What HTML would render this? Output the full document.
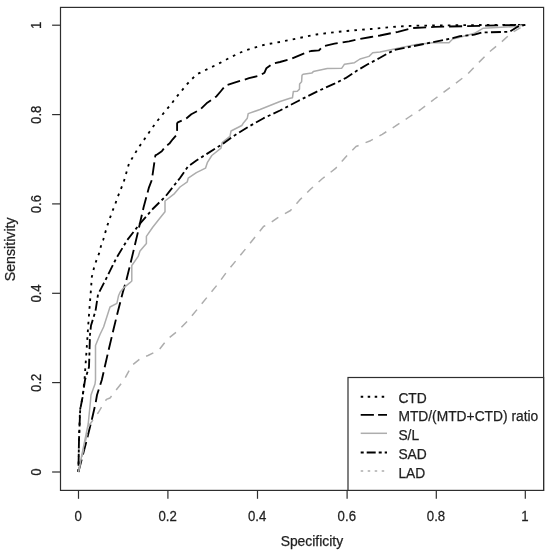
<!DOCTYPE html>
<html><head><meta charset="utf-8"><title>ROC curves</title>
<style>html,body{margin:0;padding:0;background:#fff}svg{display:block}text{stroke:#1f1f1f;stroke-width:0.25px;font-family:"Liberation Sans",sans-serif;font-size:14px;fill:#1f1f1f}</style></head><body>
<svg width="550" height="557" viewBox="0 0 550 557">
<rect width="550" height="557" fill="#fff"/>
<g fill="none" stroke-width="1.85" stroke-linejoin="round">
<polyline stroke="#000" stroke-dasharray="2.6 5.2" points="78.4,472 79,440 80,410 82.4,398 84.5,380 86.4,352.7 88.2,325.5 89.6,307 91,289 91.8,277 94.2,267 96.6,259.8 99.1,253.4 100.9,246.3 103.4,239.3 105.3,232.4 107.3,225.6 109.8,218.5 112.4,211.2 115.1,204.6 117.2,198.2 123.8,181.8 129,163.6 137.9,148.6 147.1,135.3 156.1,122.4 166.2,110 171.2,104.2 175.8,97.8 180.9,91.8 186,85.3 191.5,79.5 196.6,74.4 203.7,71 210.7,67.5 217.7,64.2 224.5,60.5 231.5,56.9 238.7,53.3 245.6,50.3 252.7,48.2 265.5,44.5 280,42 298.2,38.2 316.4,34.5 334.5,32.2 352.7,30.4 371,29 380,28.2 398,26.5 416.4,25.7 480,25 525.3,24.8"/>
<polyline stroke="#000" stroke-dasharray="13 5" points="78.4,472 86,443 91.8,419.7 95.5,403.7 97,395 101.8,380 108,352.7 113.6,329 118,311 122.7,292.7 126.4,280 131.8,258 138.2,231 143.6,207.3 149,187.3 151.8,180 155,158 155.4,155.4 157.5,154.3 161.8,151.3 165.6,146.3 169.4,143.6 172.7,139.3 176.5,134.9 177.1,130 177.1,123.4 177.8,122.3 186.3,118.5 191.3,114.2 200,109.7 207.3,102.7 216.4,96.4 221,91 225.5,85.5 234.5,82.7 249,78.2 260,75.5 264.5,72.7 266.4,68.2 272.7,63.6 280,62 291,59 303.6,53.6 311,51 319,50.4 322.7,46.4 334.5,43.6 349,41.3 360,39 371,37 380,35.5 398,31.8 412.7,28 434.5,26.9 480,25.8 525.3,24.8"/>
<polyline stroke="#adadad" stroke-width="1.5" points="78.4,472 88.2,424 90.4,402 91,395 95,384 95.5,380 95.5,345.5 100,334.5 103.6,327 110,307 116.9,303.4 118.5,295.8 120.2,292 124.5,287.1 130,282.7 131.8,281 131.8,265.5 138.2,256.4 140,251 146.4,243.6 146.4,236.4 152.7,227.3 160,218 165,211.8 165,201 174.5,193.6 180,187 187.3,181.8 188.2,178.2 196.4,172.7 205.5,168.2 207.3,162.7 211.8,155.5 221,148.2 222.2,142.7 230,136.4 231,131 241.8,125.5 243.6,122.7 247.3,118.2 248.2,113.6 260,109.5 280,101.5 290,98.2 292.5,97.7 293.3,91.6 297.3,91.2 299.5,89.1 299.6,84 301.6,81.8 302,75.3 303.1,74.2 311.8,73.1 313.3,71.6 327.3,68.5 341.8,68.2 344.5,64.2 354.5,62.7 360,59 369,56.4 372.7,52.7 380,52 398,48.2 416.4,44.5 432.7,42.7 449,42.7 452.7,39 460,37.2 474.5,33.3 483.3,28.2 515,26.5 525.3,24.8"/>
<polyline stroke="#000" stroke-dasharray="3 3.3 10 3.3" points="78.4,472 79,440 80.2,409.5 82.4,398 85,380 89,367 90,334.5 91,325.5 95.5,311 98,294.5 103.6,283.6 105.5,280 116.4,258 127.3,240 140,223.6 152.7,209 165.5,196.4 180,178 188,166.5 196.4,160.5 207.3,153.6 221.8,144.5 234.5,135.5 249,126.4 263.6,118.2 280,110.5 298.2,101 316.4,91.8 334.5,83.6 345.5,78.2 356.4,71 367.3,64.5 380,57.8 387.3,53.6 394.5,50 416.4,45.5 434.5,41.8 452.7,38.2 460,36.2 474.5,34.7 481.8,32.5 509.5,31.8 518,26.5 525.3,24.8"/>
<polyline stroke="#adadad" stroke-width="1.5" stroke-dasharray="8 7.5" points="78.4,472 89,425.5 98.4,412.5 102.7,405 106.4,399.4 110,398 124,380 131.8,365.5 141,358 148,355.5 159,350 167.5,339 177.3,331.3 188.2,320.4 198,308.4 207.8,296.4 217.6,284.4 226.4,272.4 236.2,260.4 246,248.4 254.7,237.5 263.5,226.5 270,223 277.5,217.8 290.5,210.5 299.3,200.4 311,188.7 322.5,178.5 335.6,168.4 347.3,155.3 356,146.5 370.5,140.7 382.2,134.3 395.3,126.2 408.4,117.5 420,110 434.5,99 452.7,85.5 467.3,74.5 477.5,63.8 489,52.2 500.7,42.7 511,33.3 525.3,24.8"/>
</g>
<g fill="none" stroke="#2e2e2e" stroke-width="1.2">
<rect x="60.5" y="7.4" width="483.1" height="483.0"/>
<line x1="78.5" y1="490.4" x2="78.5" y2="498.79999999999995"/>
<line x1="60.5" y1="472.0" x2="52.1" y2="472.0"/>
<line x1="167.9" y1="490.4" x2="167.9" y2="498.79999999999995"/>
<line x1="60.5" y1="382.6" x2="52.1" y2="382.6"/>
<line x1="257.5" y1="490.4" x2="257.5" y2="498.79999999999995"/>
<line x1="60.5" y1="293.3" x2="52.1" y2="293.3"/>
<line x1="347.1" y1="490.4" x2="347.1" y2="498.79999999999995"/>
<line x1="60.5" y1="203.9" x2="52.1" y2="203.9"/>
<line x1="436.3" y1="490.4" x2="436.3" y2="498.79999999999995"/>
<line x1="60.5" y1="114.6" x2="52.1" y2="114.6"/>
<line x1="525.3" y1="490.4" x2="525.3" y2="498.79999999999995"/>
<line x1="60.5" y1="25.2" x2="52.1" y2="25.2"/>
<rect x="348" y="377.5" width="195.60000000000002" height="112.89999999999998" fill="#fff"/>
</g>
<text transform="translate(78.2,521) scale(0.943,1.085)" text-anchor="middle">0</text>
<text transform="translate(41,472.2) rotate(-90) scale(0.935,1.07)" text-anchor="middle">0</text>
<text transform="translate(167.6,521) scale(0.943,1.085)" text-anchor="middle">0.2</text>
<text transform="translate(41,382.8) rotate(-90) scale(0.935,1.07)" text-anchor="middle">0.2</text>
<text transform="translate(257.2,521) scale(0.943,1.085)" text-anchor="middle">0.4</text>
<text transform="translate(41,293.5) rotate(-90) scale(0.935,1.07)" text-anchor="middle">0.4</text>
<text transform="translate(346.8,521) scale(0.943,1.085)" text-anchor="middle">0.6</text>
<text transform="translate(41,204.1) rotate(-90) scale(0.935,1.07)" text-anchor="middle">0.6</text>
<text transform="translate(436.0,521) scale(0.943,1.085)" text-anchor="middle">0.8</text>
<text transform="translate(41,114.8) rotate(-90) scale(0.935,1.07)" text-anchor="middle">0.8</text>
<text transform="translate(525.0,521) scale(0.943,1.085)" text-anchor="middle">1</text>
<text transform="translate(41,25.4) rotate(-90) scale(0.935,1.07)" text-anchor="middle">1</text>
<text x="311.9" y="546.3" text-anchor="middle" style="font-size:13.9px">Specificity</text>
<text transform="translate(15,249.3) rotate(-90)" text-anchor="middle" style="font-size:14.2px">Sensitivity</text>
<line x1="360.7" y1="396.7" x2="387" y2="396.7" stroke="#000" stroke-width="1.85" stroke-dasharray="2.5 4.5"/>
<text x="398.4" y="402.7" style="font-size:13.8px">CTD</text>
<line x1="360.7" y1="414.9" x2="387" y2="414.9" stroke="#000" stroke-width="1.85" stroke-dasharray="13.2 4.2"/>
<text x="398.4" y="421.4" style="font-size:13.8px">MTD/(MTD+CTD) ratio</text>
<line x1="360.7" y1="433.3" x2="387" y2="433.3" stroke="#adadad" stroke-width="1.5"/>
<text x="398.4" y="440.1" style="font-size:13.8px">S/L</text>
<line x1="360.7" y1="452.5" x2="387" y2="452.5" stroke="#000" stroke-width="1.85" stroke-dasharray="3 3 9 3"/>
<text x="398.4" y="458.8" style="font-size:13.8px">SAD</text>
<line x1="360.7" y1="470.9" x2="387" y2="470.9" stroke="#adadad" stroke-width="1.5" stroke-dasharray="2.5 4.5"/>
<text x="398.4" y="477.5" style="font-size:13.8px">LAD</text>
</svg></body></html>
